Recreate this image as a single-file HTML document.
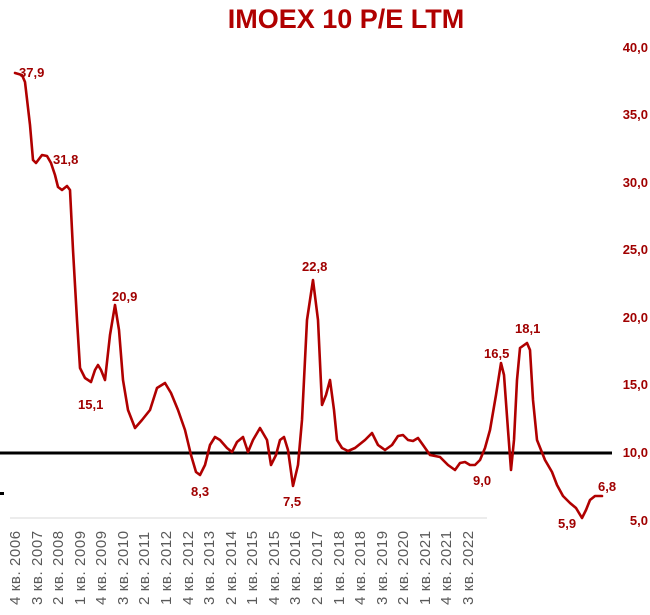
<!DOCTYPE html>
<html><head><meta charset="utf-8"><style>
body{margin:0;background:#fff;}
svg{display:block;font-family:"Liberation Sans",sans-serif;}
.l{fill:#a00000;font-weight:bold;font-size:13px;}
.y{fill:#a00000;font-weight:bold;font-size:13px;}
.x{fill:#595959;font-size:15px;letter-spacing:0.6px;}
</style></head><body>
<svg width="650" height="615" viewBox="0 0 650 615">
<text x="346" y="28" text-anchor="middle" style="fill:#b00000;font-weight:bold;font-size:27px;">IMOEX 10 P/E LTM</text>
<line x1="10" y1="518" x2="487" y2="518" stroke="#d9d9d9" stroke-width="1"/>
<line x1="0" y1="453" x2="612" y2="453" stroke="#000" stroke-width="3"/>
<rect x="0" y="492" width="4" height="3" fill="#000"/>
<g class="y" text-anchor="end">
<text x="648" y="52">40,0</text><text x="648" y="119">35,0</text><text x="648" y="187">30,0</text><text x="648" y="254">25,0</text><text x="648" y="322">20,0</text><text x="648" y="389">15,0</text><text x="648" y="457">10,0</text><text x="648" y="525">5,0</text>
</g>
<polyline fill="none" stroke="#b00000" stroke-width="2.6" stroke-linejoin="round" stroke-linecap="round" points="15,73 22,75 25,82 30,125 33,160 36,163 42,155 47,156 51,163 55,175 58,187 62,190 67,186 70,190 73,250 77,320 80,368 85,378 91,382 95,370 98,365 101,370 105,380 110,335 115,305 119,330 123,380 128,410 135,428 142,420 150,410 157,388 165,383 171,393 178,410 185,430 191,455 196,472 200,475 205,465 210,445 215,437 220,440 227,448 232,452 237,442 243,437 248,452 253,440 260,428 267,440 271,465 276,455 280,440 284,437 288,450 293,486 298,465 302,420 307,320 313,280 318,320 322,405 326,395 330,380 334,410 337,440 342,448 348,451 355,448 365,440 372,433 378,445 385,450 392,445 398,436 403,435 408,440 413,441 418,438 423,445 430,455 440,457 448,465 455,470 460,463 465,462 470,465 475,465 480,460 485,448 490,430 496,395 501,363 504,375 508,430 511,470 514,440 517,380 520,348 527,343 530,350 533,400 537,440 545,460 552,472 557,485 563,496 570,503 576,508 582,518 586,510 590,500 595,496 602,496"/>
<g class="l">
<text x="19" y="77">37,9</text>
<text x="53" y="164">31,8</text>
<text x="78" y="409">15,1</text>
<text x="112" y="301">20,9</text>
<text x="191" y="496">8,3</text>
<text x="283" y="506">7,5</text>
<text x="302" y="271">22,8</text>
<text x="473" y="485">9,0</text>
<text x="484" y="358">16,5</text>
<text x="515" y="333">18,1</text>
<text x="558" y="528">5,9</text>
<text x="598" y="491">6,8</text>
</g>
<g class="x">
<text transform="translate(20,605) rotate(-90)">4 кв. 2006</text>
<text transform="translate(42,605) rotate(-90)">3 кв. 2007</text>
<text transform="translate(63,605) rotate(-90)">2 кв. 2008</text>
<text transform="translate(85,605) rotate(-90)">1 кв. 2009</text>
<text transform="translate(106,605) rotate(-90)">4 кв. 2009</text>
<text transform="translate(128,605) rotate(-90)">3 кв. 2010</text>
<text transform="translate(149,605) rotate(-90)">2 кв. 2011</text>
<text transform="translate(171,605) rotate(-90)">1 кв. 2012</text>
<text transform="translate(193,605) rotate(-90)">4 кв. 2012</text>
<text transform="translate(214,605) rotate(-90)">3 кв. 2013</text>
<text transform="translate(236,605) rotate(-90)">2 кв. 2014</text>
<text transform="translate(257,605) rotate(-90)">1 кв. 2015</text>
<text transform="translate(279,605) rotate(-90)">4 кв. 2015</text>
<text transform="translate(300,605) rotate(-90)">3 кв. 2016</text>
<text transform="translate(322,605) rotate(-90)">2 кв. 2017</text>
<text transform="translate(344,605) rotate(-90)">1 кв. 2018</text>
<text transform="translate(365,605) rotate(-90)">4 кв. 2018</text>
<text transform="translate(387,605) rotate(-90)">3 кв. 2019</text>
<text transform="translate(408,605) rotate(-90)">2 кв. 2020</text>
<text transform="translate(430,605) rotate(-90)">1 кв. 2021</text>
<text transform="translate(451,605) rotate(-90)">4 кв. 2021</text>
<text transform="translate(473,605) rotate(-90)">3 кв. 2022</text>
</g>
</svg>
</body></html>
